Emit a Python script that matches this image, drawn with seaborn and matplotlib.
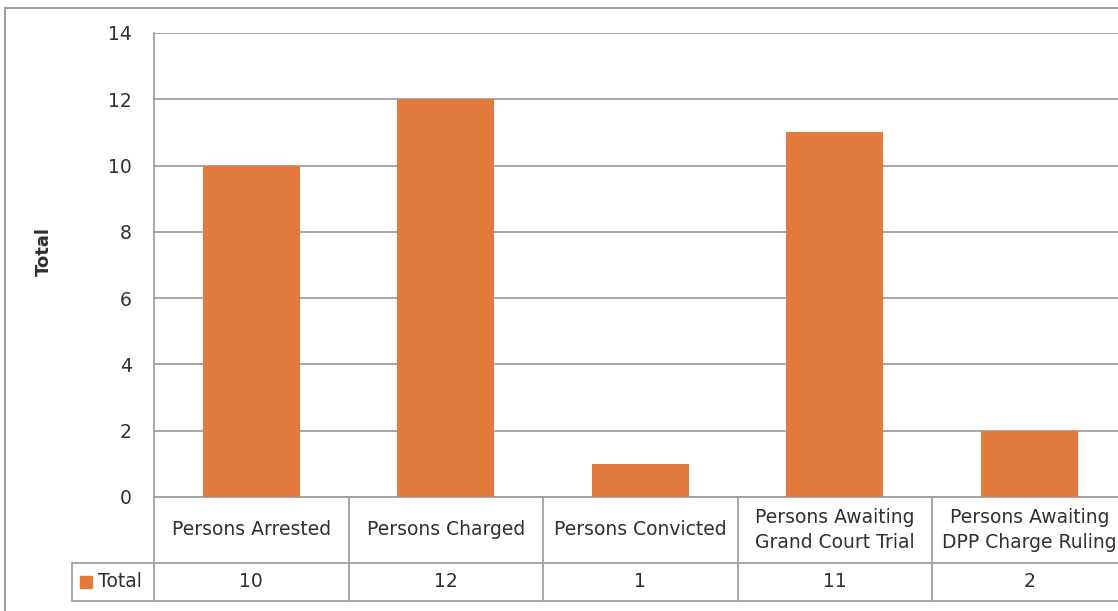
import pandas as pd
import numpy as np
import matplotlib
matplotlib.use("Agg")
import matplotlib.pyplot as plt
import matplotlib.transforms as mtransforms
from matplotlib.patches import Rectangle
import seaborn as sns

sns.set_style("white")
plt.rcParams['font.family'] = ['DejaVu Sans']

# Chart data
categories = ["Persons Arrested", "Persons Charged", "Persons Convicted",
              "Persons Awaiting\nGrand Court Trial", "Persons Awaiting\nDPP Charge Ruling"]
totals = [10, 12, 1, 11, 2]
series_name = "Total"
y_ticks = [0, 2, 4, 6, 8, 10, 12, 14]

df = pd.DataFrame({"Category": categories, "Total": totals})

bar_color = "#E2793D"
grid_color = "#A0A0A0"
text_color = "#303030"
fs = 13.5

fig = plt.figure(figsize=(11.18, 6.11), dpi=100)
ax = fig.add_axes([154 / 1118, 114 / 611, 5 * 194.5 / 1118, 464 / 611])

sns.barplot(data=df, x="Category", y="Total", color=bar_color, width=0.5,
            saturation=1, linewidth=0, ax=ax, zorder=3)

ax.set_ylim(0, 14)
ax.set_xlim(-0.5, len(categories) - 0.5)
ax.set_yticks(y_ticks)
ax.set_yticklabels([str(t) for t in y_ticks], fontsize=fs, color=text_color)
ax.tick_params(axis="y", length=0, pad=16)
ax.set_xticks([])
ax.set_xlabel("")
ax.yaxis.grid(True, color=grid_color, linewidth=1.3, zorder=0)
ax.set_axisbelow(True)
for side in ["top", "right", "bottom"]:
    ax.spines[side].set_visible(False)
ax.spines["left"].set_color(grid_color)
ax.spines["left"].set_linewidth(1.3)

ax.set_ylabel("Total", fontsize=13, fontweight="bold", color=text_color)
ax.yaxis.set_label_coords(-0.104, 0.53)

# Data table under the chart
trans = mtransforms.blended_transform_factory(ax.transData, ax.transAxes)
row1 = -0.1422
row2 = -0.2241
leg_left = -0.92
n = len(categories)
line_kw = dict(color=grid_color, linewidth=1.3, transform=trans, clip_on=False)

ax.plot([-0.5, n - 0.5], [0, 0], **line_kw)
ax.plot([leg_left, n - 0.5], [row1, row1], **line_kw)
ax.plot([leg_left, n - 0.5], [row2, row2], **line_kw)
ax.plot([leg_left, leg_left], [row1, row2], **line_kw)
for i in range(n + 1):
    ax.plot([i - 0.5, i - 0.5], [0, row2], **line_kw)

for i, (cat, val) in enumerate(zip(categories, totals)):
    ax.text(i, row1 / 2, cat, ha="center", va="center", fontsize=fs,
            color=text_color, transform=trans, linespacing=1.35)
    ax.text(i, (row1 + row2) / 2, str(val), ha="center", va="center",
            fontsize=fs, color=text_color, transform=trans)

# legend key inside the table
ax.plot([-0.85], [(row1 + row2) / 2], marker="s", markersize=9, color=bar_color,
        transform=trans, clip_on=False, linestyle="none")
ax.text(-0.79, (row1 + row2) / 2, series_name, ha="left", va="center",
        fontsize=fs, color=text_color, transform=trans)

# outer chart border
fig.patches.append(Rectangle((5 / 1118, -0.01), 1.1, (611 - 8) / 611 + 0.01,
                             transform=fig.transFigure, fill=False,
                             edgecolor=grid_color, linewidth=1.5))

fig.savefig("out.png", dpi=100)
